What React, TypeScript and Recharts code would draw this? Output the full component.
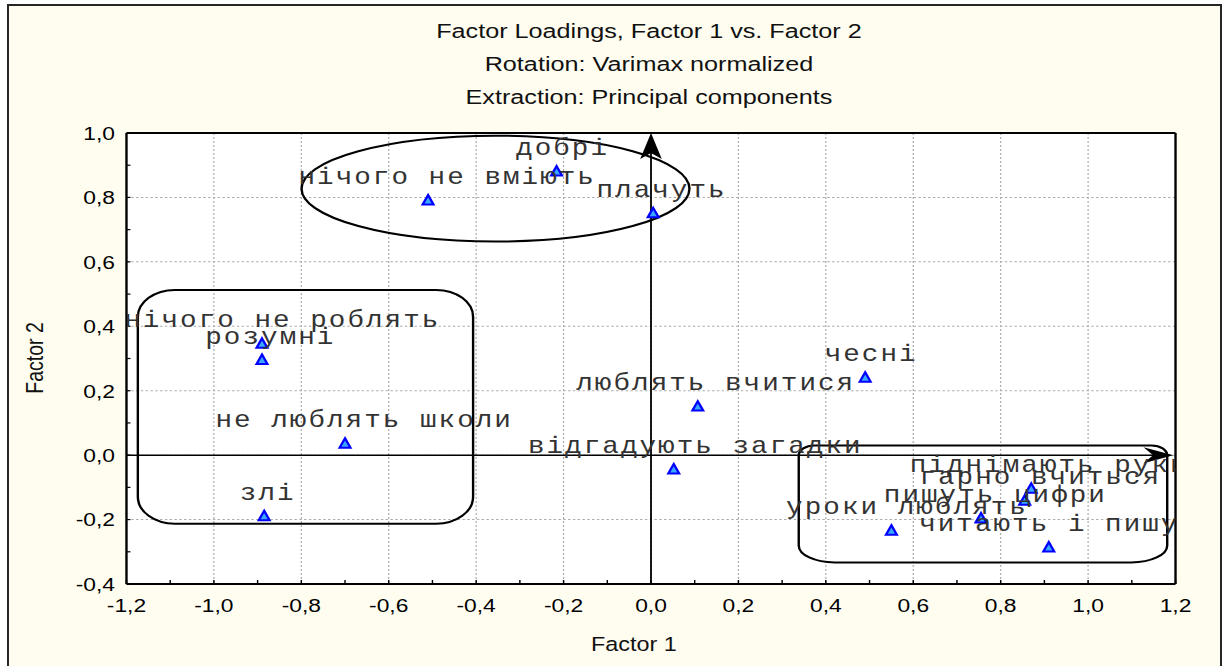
import React from "react";
import { ScatterChart, Scatter, XAxis, YAxis, CartesianGrid, ReferenceArea, ReferenceLine, LabelList } from "recharts";

// factor loadings (Factor 1 = x, Factor 2 = y)
const loadingLabels = [
  "нічого не вміють",
  "добрі",
  "плачуть",
  "нічого не роблять",
  "розумні",
  "не люблять школи",
  "злі",
  "люблять вчитися",
  "чесні",
  "відгадують загадки",
  "уроки люблять",
  "пишуть цифри",
  "піднімають руки",
  "гарно вчиться",
  "читають і пишуть",
];
const factor1 = [-0.51, -0.216, 0.005, -0.89, -0.89, -0.7, -0.885, 0.107, 0.49, 0.052, 0.55, 0.755, 0.87, 0.855, 0.91];
const factor2 = [0.79, 0.88, 0.75, 0.345, 0.295, 0.035, -0.19, 0.15, 0.24, -0.045, -0.235, -0.197, -0.105, -0.142, -0.287];

const xTicks = [-1.2, -1.1, -1.0, -0.9, -0.8, -0.7, -0.6, -0.5, -0.4, -0.3, -0.2, -0.1, 0, 0.1, 0.2, 0.3, 0.4, 0.5, 0.6, 0.7, 0.8, 0.9, 1.0, 1.1, 1.2];
const yTicks = [-0.4, -0.3, -0.2, -0.1, 0, 0.1, 0.2, 0.3, 0.4, 0.5, 0.6, 0.7, 0.8, 0.9, 1.0];
const xGrid = [-1.0, -0.8, -0.6, -0.4, -0.2, 0, 0.2, 0.4, 0.6, 0.8, 1.0];
const yGrid = [-0.2, 0, 0.2, 0.4, 0.6, 0.8];
const xDomain = [-1.2, 1.2];
const yDomain = [-0.4, 1.0];

const titleLines = ["Factor Loadings, Factor 1 vs. Factor 2", "Rotation: Varimax normalized", "Extraction: Principal components"];

// hand-drawn groupings, [x1, x2, y1, y2] in factor units
const groupTop = [-0.7995, 0.088, 0.9916, 0.663];
const groupLeft = [-1.174, -0.407, 0.513, -0.213];
const groupRight = [0.338, 1.181, 0.03, -0.333];

const points = loadingLabels.map((label, i) => ({ label, x: factor1[i], y: factor2[i] }));

const SANS = "'Liberation Sans', Arial, sans-serif";
const MONO = "'Liberation Mono', 'Courier New', monospace";
// the original picture is stretched sideways, so the whole chart is drawn narrow and scaled
const STRETCH = 1.2;
const W = 1021;
const H = 666;
const CLIP_ID = "factor-plot-clip";

const isMajor = (v: number) => Math.abs(Math.round(v * 10)) % 2 === 0;
const fmt = (v: number) => v.toFixed(1).replace(".", ",");

function BottomTick(props: any) {
  const { x, y, payload } = props;
  const v = Number(payload?.value);
  if (!isMajor(v)) return <g />;
  return (
    <text x={x} y={y + 32} textAnchor="middle" fontSize={19} fontFamily={SANS} fill="#000">
      {fmt(v)}
    </text>
  );
}

function LeftTick(props: any) {
  const { x, y, payload } = props;
  const v = Number(payload?.value);
  if (!isMajor(v)) return <g />;
  return (
    <text x={x - 12.9} y={y + 6.8} textAnchor="end" fontSize={19} fontFamily={SANS} fill="#000">
      {fmt(v)}
    </text>
  );
}

function Triangle(props: any) {
  const { cx, cy } = props;
  if (cx == null || cy == null) return <g />;
  return (
    <path
      d={`M${cx},${cy - 5.6} L${cx + 4.5},${cy + 3.8} L${cx - 4.5},${cy + 3.8} Z`}
      fill="#38a8ff"
      stroke="#0000ff"
      strokeWidth={2}
    />
  );
}

// label starts left of the point by half a nominal glyph per character, clipped to the plot
function PointLabel(props: any) {
  const vb = props.viewBox ?? props;
  const cx = Number(vb.x) + Number(vb.width ?? 0) / 2;
  const cy = Number(vb.y) + Number(vb.height ?? 0) / 2;
  const text = String(props.value ?? "");
  return (
    <g clipPath={`url(#${CLIP_ID})`}>
      <text x={cx - 6.75 * text.length} y={cy - 16.5} fontFamily={MONO} fontSize={23} letterSpacing={1.7} fill="#333">
        {text}
      </text>
    </g>
  );
}

// invisible area over the whole plot, only used to define the clip rectangle
function PlotClip(p: any) {
  return (
    <defs>
      <clipPath id={CLIP_ID}>
        <rect x={p.x} y={p.y} width={p.width} height={p.height} />
      </clipPath>
    </defs>
  );
}

function roundedPath(x: number, y: number, w: number, h: number, top: number[], bottom: number[]) {
  const [tx, ty] = top;
  const [bx, by] = bottom;
  return `M${x + tx},${y} H${x + w - tx} A${tx},${ty} 0 0 1 ${x + w},${y + ty} V${y + h - by} A${bx},${by} 0 0 1 ${x + w - bx},${y + h} H${x + bx} A${bx},${by} 0 0 1 ${x},${y + h - by} V${y + ty} A${tx},${ty} 0 0 1 ${x + tx},${y} Z`;
}

const roundedShape = (top: number[], bottom: number[]) =>
  function Shape(p: any) {
    return <path d={roundedPath(p.x, p.y, p.width, p.height, top, bottom)} fill="none" stroke="#000" strokeWidth={2} />;
  };

function EllipseShape(p: any) {
  return (
    <ellipse cx={p.x + p.width / 2} cy={p.y + p.height / 2} rx={p.width / 2} ry={p.height / 2} fill="none" stroke="#000" strokeWidth={2} />
  );
}

function UpArrow(p: any) {
  const x = p.x1;
  const top = Math.min(p.y1, p.y2);
  const bot = Math.max(p.y1, p.y2);
  return (
    <g>
      <line x1={x} y1={bot} x2={x} y2={top + 12} stroke="#000" strokeWidth={1.5} />
      <path d={`M${x},${top} L${x + 9},${top + 26} L${x},${top + 20} L${x - 9},${top + 26} Z`} fill="#000" />
    </g>
  );
}

function RightArrow(p: any) {
  const y = p.y1;
  const left = Math.min(p.x1, p.x2);
  const right = Math.max(p.x1, p.x2) - 1.7;
  return (
    <g>
      <line x1={left} y1={y} x2={right - 10} y2={y} stroke="#000" strokeWidth={1.5} />
      <path d={`M${right},${y} L${right - 25},${y - 8} L${right - 17},${y} L${right - 25},${y + 8} Z`} fill="#000" />
    </g>
  );
}

const axisLine = { stroke: "#000", strokeWidth: 2 };
const tickLine = { stroke: "#000", strokeWidth: 1.2 };

export default function App() {
  return (
    <>
      <div
        style={{
          position: "absolute",
          left: 7,
          top: 4,
          width: 1215,
          height: 662,
          boxSizing: "border-box",
          border: "2px solid #262626",
          borderBottom: "none",
          background: "#FFFDF0",
        }}
      />
      <div style={{ position: "absolute", left: 0, top: 0, width: W, height: H, transform: `scaleX(${STRETCH})`, transformOrigin: "0 0" }}>
        <ScatterChart width={W} height={H} margin={{ top: 132, right: 40.4, bottom: 32, left: 45.4 }}>
          <CartesianGrid
            xAxisId="b"
            yAxisId="l"
            fill="#fff"
            stroke="#ababab"
            strokeDasharray="2 2"
            verticalValues={xGrid}
            horizontalValues={yGrid}
          />
          <XAxis
            xAxisId="b"
            dataKey="x"
            type="number"
            orientation="bottom"
            domain={xDomain}
            ticks={xTicks}
            interval={0}
            height={50}
            tickSize={-4}
            tickMargin={0}
            axisLine={axisLine}
            tickLine={tickLine}
            tick={<BottomTick />}
          />
          <XAxis
            xAxisId="t"
            dataKey="x"
            type="number"
            orientation="top"
            domain={xDomain}
            ticks={xTicks}
            interval={0}
            height={1}
            tickSize={-4}
            axisLine={axisLine}
            tickLine={tickLine}
            tick={false}
          />
          <YAxis
            yAxisId="l"
            dataKey="y"
            type="number"
            orientation="left"
            domain={yDomain}
            ticks={yTicks}
            interval={0}
            width={60}
            tickSize={-3.3}
            tickMargin={0}
            axisLine={axisLine}
            tickLine={tickLine}
            tick={<LeftTick />}
          />
          <YAxis
            yAxisId="r"
            dataKey="y"
            type="number"
            orientation="right"
            domain={yDomain}
            ticks={yTicks}
            interval={0}
            width={1}
            tickSize={-3.3}
            axisLine={axisLine}
            tickLine={tickLine}
            tick={false}
          />
          <ReferenceArea xAxisId="b" yAxisId="l" x1={xDomain[0]} x2={xDomain[1]} y1={yDomain[0]} y2={yDomain[1]} shape={PlotClip} />
          <ReferenceArea xAxisId="b" yAxisId="l" x1={groupTop[0]} x2={groupTop[1]} y1={groupTop[2]} y2={groupTop[3]} shape={EllipseShape} />
          <ReferenceArea
            xAxisId="b"
            yAxisId="l"
            x1={groupLeft[0]}
            x2={groupLeft[1]}
            y1={groupLeft[2]}
            y2={groupLeft[3]}
            shape={roundedShape([30.8, 27], [30.8, 27])}
          />
          <ReferenceArea
            xAxisId="b"
            yAxisId="l"
            x1={groupRight[0]}
            x2={groupRight[1]}
            y1={groupRight[2]}
            y2={groupRight[3]}
            shape={roundedShape([13, 10], [30, 17])}
          />
          <ReferenceLine xAxisId="b" yAxisId="l" x={0} shape={UpArrow} />
          <ReferenceLine xAxisId="b" yAxisId="l" y={0} shape={RightArrow} />
          <Scatter xAxisId="b" yAxisId="l" data={points} shape={Triangle} isAnimationActive={false}>
            <LabelList dataKey="label" content={PointLabel} />
          </Scatter>
        </ScatterChart>
        <svg width={W} height={H} style={{ position: "absolute", left: 0, top: 0, pointerEvents: "none" }}>
          {titleLines.map((t, i) => (
            <text key={t} x={540.8} y={38.3 + i * 33} textAnchor="middle" fontFamily={SANS} fontSize={21} fill="#111">
              {t}
            </text>
          ))}
          <text x={528.3} y={650.7} textAnchor="middle" fontFamily={SANS} fontSize={19.5} fill="#111">
            Factor 1
          </text>
          <text x={36} y={358} transform="rotate(-90 36 358)" textAnchor="middle" fontFamily={SANS} fontSize={19.5} fill="#111">
            Factor 2
          </text>
        </svg>
      </div>
    </>
  );
}
